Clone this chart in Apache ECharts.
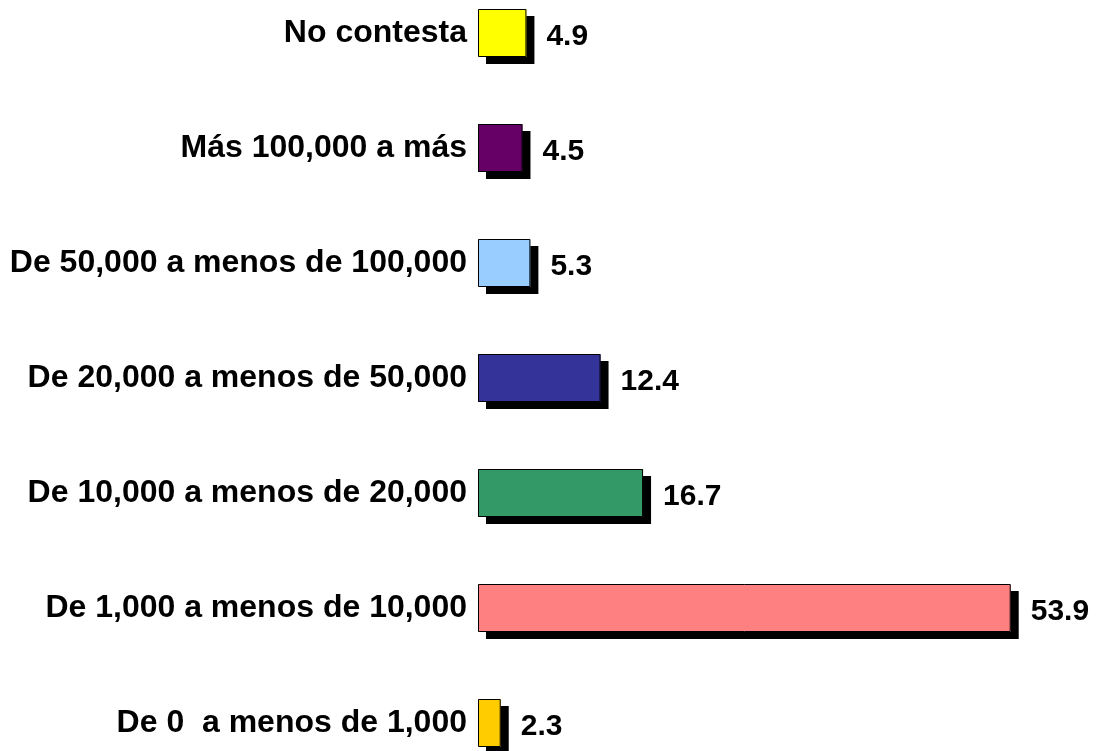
<!DOCTYPE html>
<html>
<head>
    <meta charset="utf-8">
    <title>Ingresos</title>
    <script src="https://cdn.jsdelivr.net/npm/echarts@6/dist/echarts.min.js"></script>
    <style>
        html,body{
            height:100%;
            width:100%;
            margin:0;
            padding:0;
            background:#fff;
        }
        #chart{
            width:1106px;
            height:751px;
        }
    </style>
</head>
<body>
<div id="chart"></div>
<script>
    // categorias (de arriba hacia abajo)
    var categorias = ['No contesta', 'Más 100,000 a más', 'De 50,000 a menos de 100,000',
        'De 20,000 a menos de 50,000', 'De 10,000 a menos de 20,000',
        'De 1,000 a menos de 10,000', 'De 0  a menos de 1,000'];
    // porcentajes
    var valores = [4.9, 4.5, 5.3, 12.4, 16.7, 53.9, 2.3];
    // colores de cada barra
    var colores = ['#FFFF00', '#660066', '#99CCFF', '#333399', '#339966', '#FF8080', '#FFCC00'];

    var myChart = echarts.init(document.getElementById('chart'));

    var fuente = 'Liberation Sans, Arial, sans-serif';

    var option = {
        animation: false,
        grid: {
            left: 478,
            right: 35,
            top: 33,
            bottom: 28
        },
        xAxis: {
            type: 'value',
            min: 0,
            max: 60,
            show: false
        },
        yAxis: {
            type: 'category',
            inverse: true,
            boundaryGap: false,
            data: categorias,
            axisLine: {show: false},
            axisTick: {show: false},
            splitLine: {show: false},
            axisLabel: {
                margin: 11,
                padding: [6, 0, 0, 0],
                color: '#000',
                fontFamily: fuente,
                fontWeight: 'bold',
                fontSize: 32
            }
        },
        series: [
            // relleno con sombra negra
            {
                type: 'bar',
                barWidth: 48,
                barGap: '-100%',
                clip: false,
                silent: true,
                data: valores.map(function (v, i) {
                    return {value: v, itemStyle: {color: colores[i]}};
                }),
                itemStyle: {
                    borderWidth: 0,
                    shadowColor: '#000',
                    shadowBlur: 0,
                    shadowOffsetX: 8,
                    shadowOffsetY: 7
                }
            },
            // borde negro + etiqueta
            {
                type: 'bar',
                barWidth: 48,
                barGap: '-100%',
                clip: false,
                data: valores,
                itemStyle: {
                    color: 'rgba(0,0,0,0)',
                    borderColor: '#000',
                    borderWidth: 1
                },
                label: {
                    show: true,
                    position: 'right',
                    distance: 20,
                    offset: [0, 4],
                    color: '#000',
                    fontFamily: fuente,
                    fontWeight: 'bold',
                    fontSize: 30
                }
            }
        ]
    };
    myChart.setOption(option);
</script>
</body>
</html>
